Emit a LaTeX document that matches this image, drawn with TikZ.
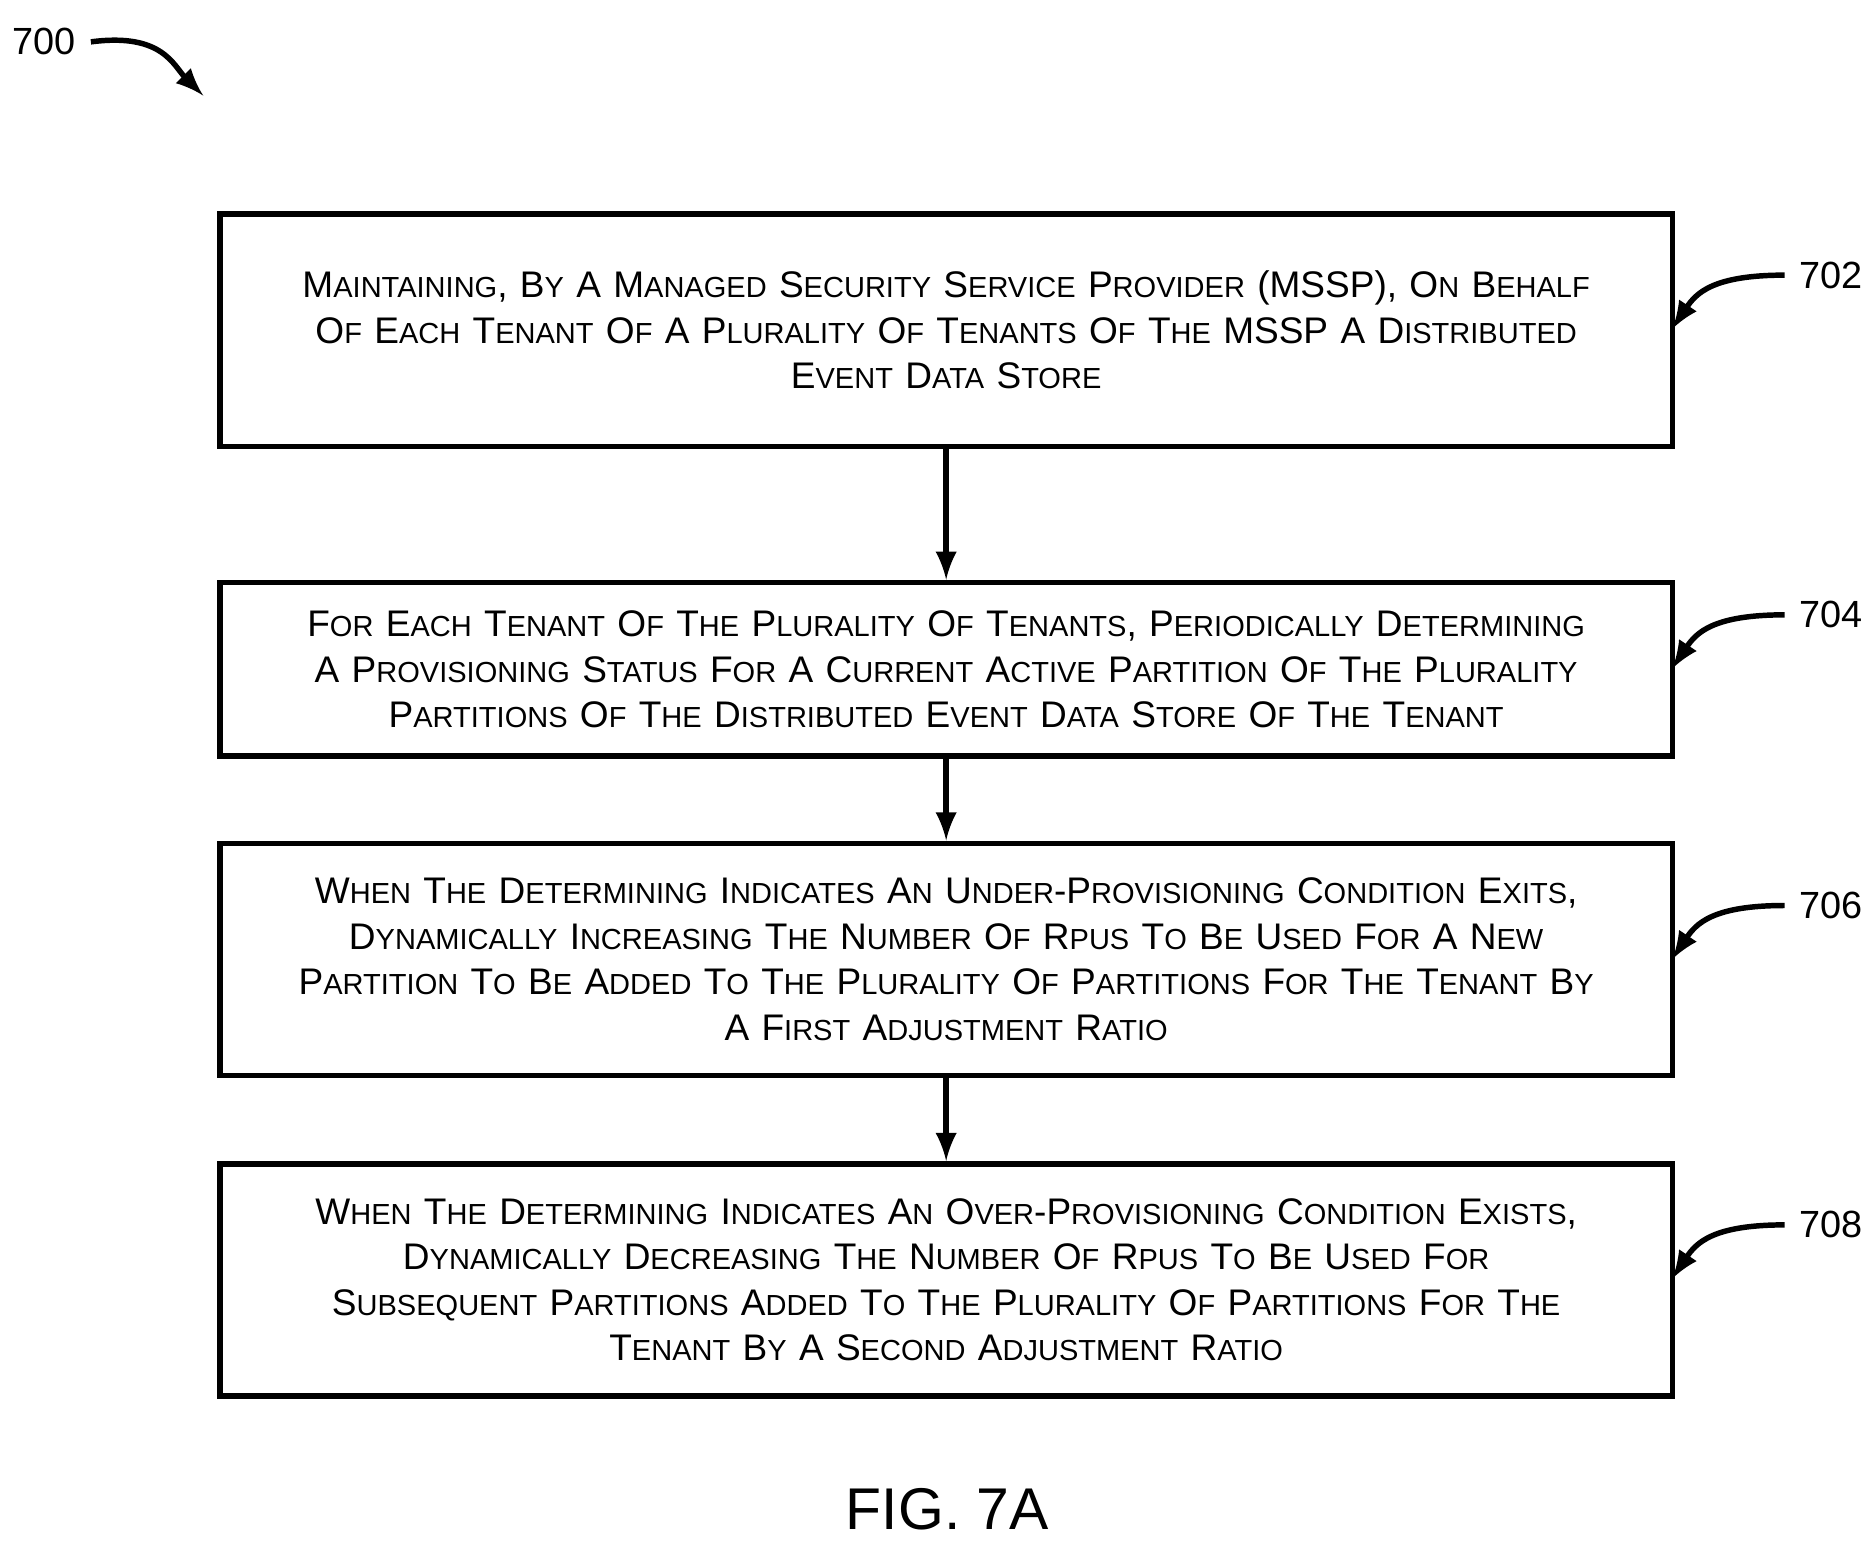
\documentclass[tikz,border=0pt]{standalone}
\usepackage{fontspec}
\setmainfont{Liberation Sans}
\usetikzlibrary{positioning}
\usetikzlibrary{calc}
\newcommand\sw[1]{{\fontsize{6.9}{10.8}\selectfont\MakeUppercase{#1}}}
\tikzset{stepbox/.style={draw,line width=1.3pt,minimum width=12.04cm,text width=11.9cm,align=center,font=\fontsize{8.8}{10.8}\selectfont},
ref/.style={font=\fontsize{9}{11}\selectfont}}
\begin{document}
\begin{tikzpicture}[x=0.01cm,y=-0.01cm]
\useasboundingbox (0,0) rectangle (1560,1296);
\node[stepbox,minimum height=1.94cm](s702) at (791,276){M\sw{aintaining}, B\sw{y} A M\sw{anaged} S\sw{ecurity} S\sw{ervice} P\sw{rovider} (MSSP), O\sw{n} B\sw{ehalf}\\ O\sw{f} E\sw{ach} T\sw{enant} O\sw{f} A P\sw{lurality} O\sw{f} T\sw{enants} O\sw{f} T\sw{he} MSSP A D\sw{istributed}\\ E\sw{vent} D\sw{ata} S\sw{tore}};
\node[stepbox,minimum height=1.45cm](s704) at (791,559.5){F\sw{or} E\sw{ach} T\sw{enant} O\sw{f} T\sw{he} P\sw{lurality} O\sw{f} T\sw{enants}, P\sw{eriodically} D\sw{etermining}\\ A P\sw{rovisioning} S\sw{tatus} F\sw{or} A C\sw{urrent} A\sw{ctive} P\sw{artition} O\sw{f} T\sw{he} P\sw{lurality}\\ P\sw{artitions} O\sw{f} T\sw{he} D\sw{istributed} E\sw{vent} D\sw{ata} S\sw{tore} O\sw{f} T\sw{he} T\sw{enant}};
\node[stepbox,minimum height=1.94cm](s706) at (791,802){W\sw{hen} T\sw{he} D\sw{etermining} I\sw{ndicates} A\sw{n} U\sw{nder}-P\sw{rovisioning} C\sw{ondition} E\sw{xits},\\ D\sw{ynamically} I\sw{ncreasing} T\sw{he} N\sw{umber} O\sw{f} R\sw{pus} T\sw{o} B\sw{e} U\sw{sed} F\sw{or} A N\sw{ew}\\ P\sw{artition} T\sw{o} B\sw{e} A\sw{dded} T\sw{o} T\sw{he} P\sw{lurality} O\sw{f} P\sw{artitions} F\sw{or} T\sw{he} T\sw{enant} B\sw{y}\\ A F\sw{irst} A\sw{djustment} R\sw{atio}};
\node[stepbox,minimum height=1.94cm](s708) at (791,1070){W\sw{hen} T\sw{he} D\sw{etermining} I\sw{ndicates} A\sw{n} O\sw{ver}-P\sw{rovisioning} C\sw{ondition} E\sw{xists},\\ D\sw{ynamically} D\sw{ecreasing} T\sw{he} N\sw{umber} O\sw{f} R\sw{pus} T\sw{o} B\sw{e} U\sw{sed} F\sw{or}\\ S\sw{ubsequent} P\sw{artitions} A\sw{dded} T\sw{o} T\sw{he} P\sw{lurality} O\sw{f} P\sw{artitions} F\sw{or} T\sw{he}\\ T\sw{enant} B\sw{y} A S\sw{econd} A\sw{djustment} R\sw{atio}};
\draw[line width=1.3pt,-latex] (s702) -- (s704);
\draw[line width=1.3pt,-latex] (s704) -- (s706);
\draw[line width=1.3pt,-latex] (s706) -- (s708);
\foreach \n/\y in {702/230,704/514,706/757,708/1024}{
\node[ref,anchor=west](l\n) at (1492,\y){\n};
\draw[line width=1.3pt,-latex] (l\n.west) .. controls +(-60,0) and +(20,-30) .. (1398,\y+45);
}
\node[ref,anchor=east](l700) at (76,35){700};
\draw[line width=1.3pt,-latex] (l700.east) .. controls +(60,-8) and +(-25,-25) .. (170,80);
\node[font=\fontsize{14}{17}\selectfont](fig) at (792,1262){FIG. 7A};
\end{tikzpicture}
\end{document}
